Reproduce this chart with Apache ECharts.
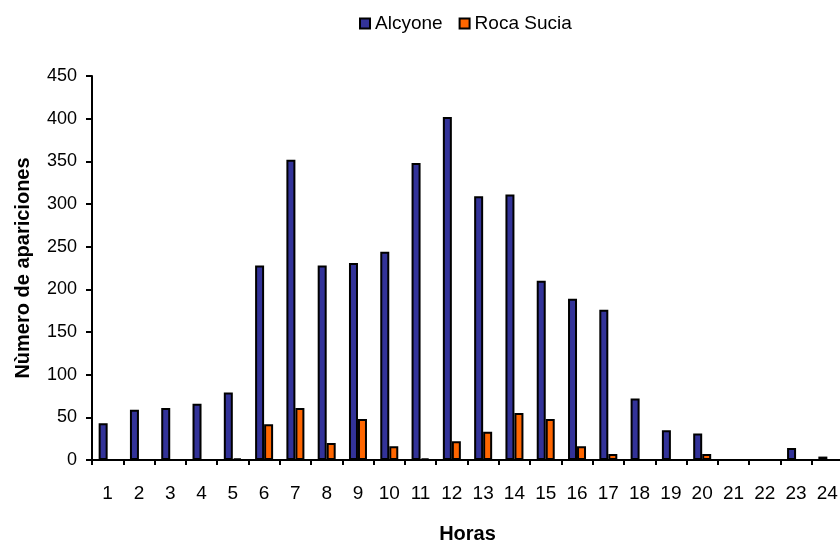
<!DOCTYPE html>
<html>
<head>
<meta charset="utf-8">
<script src="https://cdn.jsdelivr.net/npm/echarts@6/dist/echarts.min.js"></script>
<style>html,body{margin:0;padding:0;background:#fff}#c{width:840px;height:542px}</style>
</head>
<body>
<div id="c"></div>
<script>
const hours = ['1','2','3','4','5','6','7','8','9','10','11','12','13','14','15','16','17','18','19','20','21','22','23','24'];
const alcyone = [43, 59, 61, 66, 79, 228, 352, 228, 231, 244, 348, 402, 309, 311, 210, 189, 176, 72, 35, 31, 0, 0, 14, 4];
const rocaSucia = [0, 0, 0, 0, 2, 42, 61, 20, 48, 16, 2, 22, 33, 55, 48, 16, 7, 0, 0, 7, 0, 0, 0, 0];
const yTicks = { min: 0, max: 450, interval: 50 };

const FONT = 'Liberation Sans, Arial, sans-serif';
const chart = echarts.init(document.getElementById('c'));
chart.setOption({
  animation: false,
  legend: {
    top: 9, left: 354,
    itemWidth: 10, itemHeight: 10, itemGap: 16,
    icon: 'rect',
    textStyle: { fontFamily: FONT, fontSize: 19, color: '#000' },
    data: [
      { name: 'Alcyone', itemStyle: { borderColor: '#000', borderWidth: 2 } },
      { name: 'Roca Sucia', itemStyle: { borderColor: '#000', borderWidth: 2 } }
    ]
  },
  grid: { left: 92, top: 76, bottom: 82, width: 751, outerBoundsMode: 'none', containLabel: false },
  xAxis: {
    type: 'category', data: hours,
    name: 'Horas', nameLocation: 'middle', nameGap: 64,
    nameTextStyle: { fontFamily: FONT, fontSize: 20, fontWeight: 'bold', color: '#000' },
    axisLine: { lineStyle: { color: '#000', width: 2 } },
    axisTick: { show: true, length: 5, lineStyle: { color: '#000', width: 2 } },
    axisLabel: { fontFamily: FONT, fontSize: 19, color: '#000', margin: 24 }
  },
  yAxis: {
    type: 'value', min: yTicks.min, max: yTicks.max, interval: yTicks.interval,
    name: 'Nùmero de apariciones', nameLocation: 'middle', nameGap: 59,
    nameTextStyle: { fontFamily: FONT, fontSize: 20, fontWeight: 'bold', color: '#000' },
    axisLine: { show: true, lineStyle: { color: '#000', width: 2 } },
    axisTick: { show: true, length: 6, lineStyle: { color: '#000', width: 2 } },
    axisLabel: { fontFamily: FONT, fontSize: 18, color: '#000', margin: 15 },
    splitLine: { show: false }
  },
  series: [
    { name: 'Alcyone', type: 'bar', data: alcyone, barWidth: 9, barGap: '0%',
      itemStyle: { color: '#333399', borderColor: '#000', borderWidth: 2 } },
    { name: 'Roca Sucia', type: 'bar', data: rocaSucia, barWidth: 9, barGap: '0%',
      itemStyle: { color: '#FF6600', borderColor: '#000', borderWidth: 2 } }
  ]
});
</script>
</body>
</html>
